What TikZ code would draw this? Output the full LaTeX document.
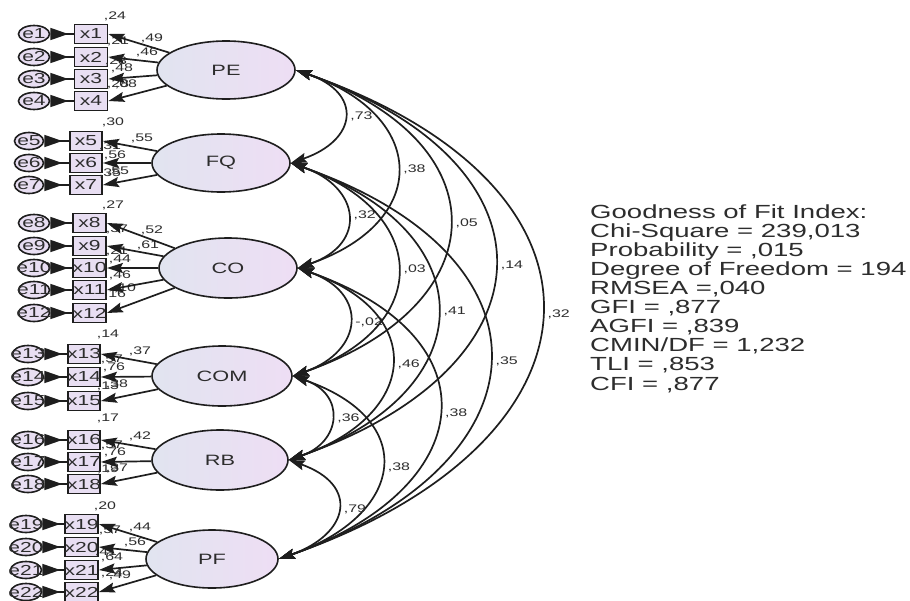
\documentclass[tikz,border=0pt]{standalone}
\usepackage{fontspec}
\setmainfont[FakeStretch=1.45]{Liberation Sans}
\usetikzlibrary{arrows.meta,shapes.geometric}
\definecolor{lav}{RGB}{232,222,242}
\definecolor{lavL}{RGB}{225,228,240}
\definecolor{lavR}{RGB}{238,222,244}
\definecolor{ink}{RGB}{30,30,30}
\definecolor{txt}{RGB}{45,45,45}
\begin{document}
\begin{tikzpicture}[x=1pt,y=-1pt,
  factor/.style={ellipse, draw=ink, line width=1.6pt, left color=lavL, right color=lavR, inner sep=0pt, font=\fontsize{15}{17}\selectfont, text=txt},
  xbox/.style={rectangle, draw=ink, line width=1.8pt, fill=lav, minimum width=33pt, minimum height=19pt, inner sep=0pt},
  enode/.style={ellipse, draw=ink, line width=1.6pt, fill=lav, minimum width=31pt, minimum height=17pt, inner sep=0pt},
  vtxt/.style={font=\fontsize{14.5}{16}\selectfont, text=txt, inner sep=0pt},
  lbl/.style={font=\fontsize{11}{12}\selectfont, text=txt, inner sep=0pt},
  load/.style={draw=ink, line width=1.7pt, -{Stealth[length=16pt,width=10pt,inset=2.5pt]}},
  err/.style={draw=ink, line width=1.7pt, {Triangle[reversed,length=18pt,width=12pt]}-},
  cov/.style={draw=ink, line width=1.7pt, {Stealth[length=16pt,width=10pt,inset=2.5pt]}-{Stealth[length=16pt,width=10pt,inset=2.5pt]}},
  covlbl/.style={font=\fontsize{11}{12}\selectfont, text=txt, midway, right, inner sep=0pt, xshift=6pt},
  gof/.style={font=\fontsize{19}{20}\selectfont, text=txt, anchor=base west, inner sep=0pt}
]
\fill[white] (0,0) rectangle (910,600);
\useasboundingbox (0,0) rectangle (910,600);

% factors
\node[factor, minimum width=138pt, minimum height=58pt] (PE) at (226,70) {PE};
\node[factor, minimum width=138pt, minimum height=58pt] (FQ) at (221,163) {FQ};
\node[factor, minimum width=138pt, minimum height=60pt] (CO) at (228,268) {CO};
\node[factor, minimum width=140pt, minimum height=60pt] (COM) at (222,376) {COM};
\node[factor, minimum width=136pt, minimum height=60pt] (RB) at (220,460) {RB};
\node[factor, minimum width=132pt, minimum height=58pt] (PF) at (212,559) {PF};

% indicators
\node[xbox, label={[vtxt]center:x1}] (x1) at (91,34) {};
\node[xbox, label={[vtxt]center:x2}] (x2) at (91,57) {};
\node[xbox, label={[vtxt]center:x3}] (x3) at (91,79) {};
\node[xbox, label={[vtxt]center:x4}] (x4) at (91,101) {};
\node[xbox, minimum width=32pt, label={[vtxt]center:x5}] (x5) at (86,141) {};
\node[xbox, minimum width=32pt, label={[vtxt]center:x6}] (x6) at (86,163) {};
\node[xbox, minimum width=32pt, label={[vtxt]center:x7}] (x7) at (86,185) {};
\node[xbox, label={[vtxt]center:x8}] (x8) at (89.5,223) {};
\node[xbox, label={[vtxt]center:x9}] (x9) at (89.5,246) {};
\node[xbox, label={[vtxt]center:x10}] (x10) at (89.5,268) {};
\node[xbox, label={[vtxt]center:x11}] (x11) at (89.5,290) {};
\node[xbox, label={[vtxt]center:x12}] (x12) at (89.5,313) {};
\node[xbox, minimum width=32pt, label={[vtxt]center:x13}] (x13) at (84,354) {};
\node[xbox, minimum width=32pt, label={[vtxt]center:x14}] (x14) at (84,377) {};
\node[xbox, minimum width=32pt, label={[vtxt]center:x15}] (x15) at (84,401) {};
\node[xbox, minimum width=32pt, label={[vtxt]center:x16}] (x16) at (84,440) {};
\node[xbox, minimum width=32pt, label={[vtxt]center:x17}] (x17) at (84,462) {};
\node[xbox, minimum width=32pt, label={[vtxt]center:x18}] (x18) at (84,484) {};
\node[xbox, label={[vtxt]center:x19}] (x19) at (81.5,524) {};
\node[xbox, label={[vtxt]center:x20}] (x20) at (81.5,547) {};
\node[xbox, label={[vtxt]center:x21}] (x21) at (81.5,570) {};
\node[xbox, label={[vtxt]center:x22}] (x22) at (81.5,592) {};

% errors
\node[enode, label={[vtxt]center:e1}] (e1) at (34,34) {};
\node[enode, label={[vtxt]center:e2}] (e2) at (34,57) {};
\node[enode, label={[vtxt]center:e3}] (e3) at (34,79) {};
\node[enode, label={[vtxt]center:e4}] (e4) at (34,101) {};
\node[enode, minimum width=29pt, label={[vtxt]center:e5}] (e5) at (29,141) {};
\node[enode, minimum width=29pt, label={[vtxt]center:e6}] (e6) at (29,163) {};
\node[enode, minimum width=29pt, label={[vtxt]center:e7}] (e7) at (29,185) {};
\node[enode, label={[vtxt]center:e8}] (e8) at (34,223) {};
\node[enode, label={[vtxt]center:e9}] (e9) at (34,246) {};
\node[enode, label={[vtxt]center:e10}] (e10) at (34,268) {};
\node[enode, label={[vtxt]center:e11}] (e11) at (34,290) {};
\node[enode, label={[vtxt]center:e12}] (e12) at (34,313) {};
\node[enode, label={[vtxt]center:e13}] (e13) at (28,354) {};
\node[enode, label={[vtxt]center:e14}] (e14) at (28,377) {};
\node[enode, label={[vtxt]center:e15}] (e15) at (28,401) {};
\node[enode, label={[vtxt]center:e16}] (e16) at (28,440) {};
\node[enode, label={[vtxt]center:e17}] (e17) at (28,462) {};
\node[enode, label={[vtxt]center:e18}] (e18) at (28,484) {};
\node[enode, label={[vtxt]center:e19}] (e19) at (26,524) {};
\node[enode, label={[vtxt]center:e20}] (e20) at (26,547) {};
\node[enode, label={[vtxt]center:e21}] (e21) at (26,570) {};
\node[enode, label={[vtxt]center:e22}] (e22) at (26,592) {};

% estimates near indicators
\node[lbl] (r1) at (115,16) {,24};
\node[lbl] (r2) at (118,41) {,21};
\node[lbl] (l1) at (152,38) {,49};
\node[lbl] (l2) at (147,52) {,46};
\node[lbl] (r3) at (116,61) {,23};
\node[lbl] (l3) at (122,68) {,48};
\node[lbl] (r4) at (118,84) {,28};
\node[lbl] (l4) at (126,84) {,08};

\node[lbl] (r5) at (113,122) {,30};
\node[lbl] (r6) at (110,146) {,31};
\node[lbl] (l5) at (142,138) {,55};
\node[lbl] (l6) at (115,155) {,56};
\node[lbl] (r7) at (110,173) {,35};
\node[lbl] (l7) at (118,171) {,55};

\node[lbl] (r8) at (113,205) {,27};
\node[lbl] (r9) at (117,229) {,37};
\node[lbl] (l8) at (152,230) {,52};
\node[lbl] (r10) at (117,251) {,21};
\node[lbl] (l9) at (148,245) {,61};
\node[lbl] (l10) at (120,259) {,44};
\node[lbl] (l11) at (120,275) {,46};
\node[lbl] (r12) at (115,294) {,16};
\node[lbl] (l12) at (125,288) {,10};

\node[lbl] (r13) at (108,334) {,14};
\node[lbl] (r14) at (112,359) {,57};
\node[lbl] (l13) at (140,351) {,37};
\node[lbl] (l14) at (114,367) {,76};
\node[lbl] (r15) at (108,386) {,13};
\node[lbl] (l15) at (117,384) {,38};

\node[lbl] (r16) at (108,418) {,17};
\node[lbl] (r17) at (112,445) {,57};
\node[lbl] (l16) at (140,436) {,42};
\node[lbl] (l17) at (115,452) {,76};
\node[lbl] (r18) at (108,469) {,19};
\node[lbl] (l18) at (117,468) {,37};

\node[lbl] (r19) at (105,506) {,20};
\node[lbl] (r20) at (110,530) {,57};
\node[lbl] (l19) at (140,527) {,44};
\node[lbl] (l20) at (135,542) {,56};
\node[lbl] (r21) at (106,552) {,41};
\node[lbl] (l21) at (112,557) {,64};
\node[lbl] (r22) at (112,573) {,24};
\node[lbl] (l22) at (120,575) {,49};

% loadings and error paths
\foreach \f/\list in {PE/{1,2,3,4}, FQ/{5,6,7}, CO/{8,9,10,11,12}, COM/{13,14,15}, RB/{16,17,18}, PF/{19,20,21,22}}{
  \foreach \k in \list {
    \draw[load] (\f) -- (x\k.east);
    \draw[err] (e\k) -- (x\k);
  }
}

% covariances
\draw[cov] (PE.east) .. controls +(67,23) and +(67,-23) .. (FQ.east) node[covlbl] (c1) {,73};
\draw[cov] (PE.east) .. controls +(133,46) and +(133,-46) .. (CO.east) node[covlbl] (c2) {,38};
\draw[cov] (PE.east) .. controls +(206,72) and +(206,-72) .. (COM.east) node[covlbl] (c3) {,05};
\draw[cov] (PE.east) .. controls +(269,94) and +(269,-94) .. (RB.east) node[covlbl] (c4) {,14};
\draw[cov] (PE.east) .. controls +(338,118) and +(338,-118) .. (PF.east) node[covlbl] (c5) {,32};
\draw[cov] (FQ.east) .. controls +(70,24) and +(70,-24) .. (CO.east) node[covlbl] (c6) {,32};
\draw[cov] (FQ.east) .. controls +(140,49) and +(140,-49) .. (COM.east) node[covlbl] (c7) {,03};
\draw[cov] (FQ.east) .. controls +(196,69) and +(196,-69) .. (RB.east) node[covlbl] (c8) {,41};
\draw[cov] (FQ.east) .. controls +(272,95) and +(272,-95) .. (PF.east) node[covlbl] (c9) {,35};
\draw[cov] (CO.east) .. controls +(71,25) and +(71,-25) .. (COM.east) node[covlbl] (c10) {-,02};
\draw[cov] (CO.east) .. controls +(130,45) and +(130,-45) .. (RB.east) node[covlbl] (c11) {,46};
\draw[cov] (CO.east) .. controls +(200,70) and +(200,-70) .. (PF.east) node[covlbl] (c12) {,38};
\draw[cov] (COM.east) .. controls +(53,18) and +(53,-18) .. (RB.east) node[covlbl] (c13) {,36};
\draw[cov] (COM.east) .. controls +(127,44) and +(127,-44) .. (PF.east) node[covlbl] (c14) {,38};
\draw[cov] (RB.east) .. controls +(71,25) and +(71,-25) .. (PF.east) node[covlbl] (c15) {,79};

% fit indices
\node[gof] (g1) at (590,218) {Goodness of Fit Index:};
\node[gof] (g2) at (590,237.1) {Chi-Square = 239,013};
\node[gof] (g3) at (590,256.2) {Probability = ,015};
\node[gof] (g4) at (590,275.3) {Degree of Freedom = 194};
\node[gof] (g5) at (590,294.4) {RMSEA =,040};
\node[gof] (g6) at (590,313.5) {GFI = ,877};
\node[gof] (g7) at (590,332.6) {AGFI = ,839};
\node[gof] (g8) at (590,351.7) {CMIN/DF = 1,232};
\node[gof] (g9) at (590,370.8) {TLI = ,853};
\node[gof] (g10) at (590,390) {CFI = ,877};
\end{tikzpicture}
\end{document}
